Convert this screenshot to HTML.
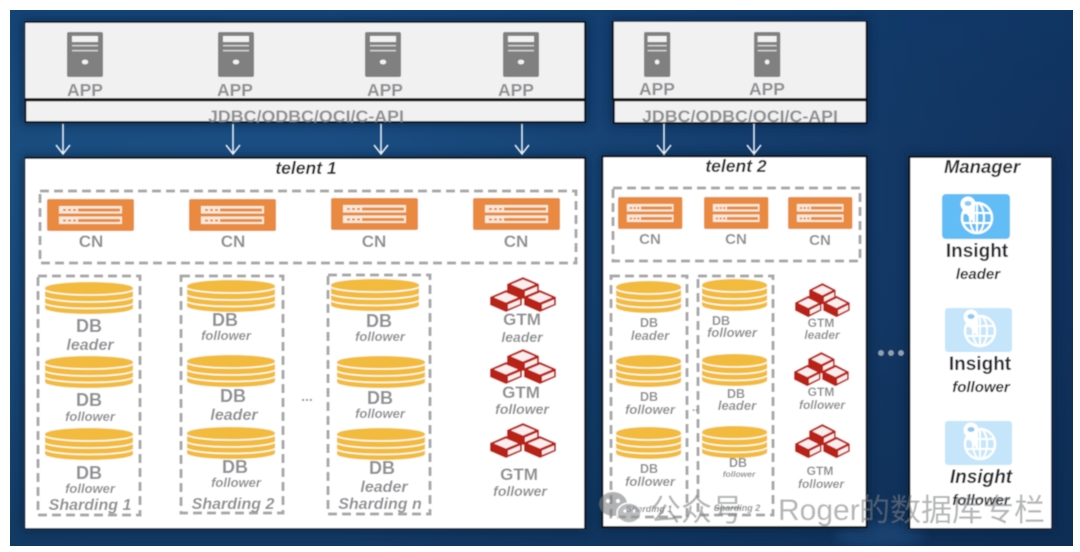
<!DOCTYPE html>
<html><head><meta charset="utf-8"><style>
html,body{margin:0;padding:0;background:#fff;width:1080px;height:552px;overflow:hidden}
svg{display:block}
text{font-family:"Liberation Sans","Noto Sans CJK SC",sans-serif}
.g{fill:#8f9093;font-weight:700;text-anchor:middle}
.i{fill:#8f9093;font-weight:700;font-style:italic;text-anchor:middle}
.d{fill:#2a2a2e;font-weight:700;text-anchor:middle}
.di{fill:#2a2a2e;font-weight:700;font-style:italic;text-anchor:middle}
.dash{fill:none;stroke:#a8a8aa;stroke-width:3;stroke-dasharray:9 5}
.p{stroke:#0b0b0b;stroke-width:1.6}
.arr{fill:none;stroke:#e8f0f6;stroke-width:1.6}
.wm{fill:#7d7f82;fill-opacity:.58;font-weight:400}
</style></head><body>
<svg width="1080" height="552" viewBox="0 0 1080 552" xmlns="http://www.w3.org/2000/svg">
<defs>
<clipPath id="bgc"><rect x="10" y="10" width="1063" height="536"/></clipPath>
<linearGradient id="bg" x1="0" y1="0" x2="1" y2="0">
<stop offset="0" stop-color="#1b4f80"/><stop offset=".3" stop-color="#1c4f84"/><stop offset=".6" stop-color="#164272"/><stop offset="1" stop-color="#11315c"/>
</linearGradient>
<linearGradient id="bg2" x1="0" y1="0" x2="0" y2="1">
<stop offset="0" stop-color="#0f3a6c" stop-opacity=".5"/><stop offset=".3" stop-color="#0f3a6c" stop-opacity="0"/><stop offset=".7" stop-color="#0d2c50" stop-opacity=".3"/><stop offset="1" stop-color="#0d2c50" stop-opacity=".6"/>
</linearGradient>
<filter id="b" x="0" y="0" width="100%" height="100%"><feGaussianBlur stdDeviation="0.5"/></filter>
<filter id="sh" x="-20%" y="-20%" width="140%" height="140%"><feGaussianBlur stdDeviation="5"/></filter>
<g id="srv">
<rect width="36" height="45" rx="2" fill="#808080"/>
<rect x="5" y="4" width="26" height="6" fill="#f2f2f2"/>
<rect x="5" y="13" width="26" height="1.3" fill="#dcdcdc"/>
<rect x="5" y="18" width="26" height="1.3" fill="#dcdcdc"/>
<ellipse cx="18" cy="30" rx="3.2" ry="2.4" fill="#f2f2f2"/>
</g>
<g id="cn">
<rect width="87" height="32" rx="2" fill="#ea8a3f"/>
<rect x="12" y="7" width="63" height="7.5" fill="#f8e9dc"/>
<rect x="12" y="17.5" width="63" height="7.5" fill="#f8e9dc"/>
<rect x="31" y="9.5" width="42" height="3" fill="#ea8a3f"/>
<rect x="31" y="20" width="42" height="3" fill="#ea8a3f"/>
<path d="M16 11h3M21 11h3M26 11h3M16 21.500h3M21 21.500h3M26 21.500h3" stroke="#ea8a3f" stroke-width="2"/>
</g>
<g id="db">
<path d="M0 6A44 6 0 0 1 88 6V26A44 6 0 0 1 0 26Z" fill="#f3bb3c"/>
<path d="M-1 7A45 6 0 0 0 89 7M-1 14A45 6 0 0 0 89 14M-1 20.500A45 6 0 0 0 89 20.500" fill="none" stroke="#fff" stroke-width="1.500"/>
</g>
<g id="cube">
<path d="M0 7L16 0L32 7V15L16 22L0 15Z" fill="#b92319"/>
<path d="M4 7.500L16 2.500L28 7.500L16 12.500Z" fill="#fbeeee"/>
<path d="M18 14.500L30 9.500V14L18 19Z" fill="#fbeeee"/>
</g>
<g id="gtm">
<use href="#cube" x="17" y="0"/>
<use href="#cube" x="0" y="13"/>
<use href="#cube" x="34" y="13"/>
</g>
<g id="globe">
<circle cx="35" cy="24" r="15" fill="none" stroke="#fff" stroke-width="2.500"/>
<ellipse cx="35" cy="24" rx="7" ry="15" fill="none" stroke="#fff" stroke-width="2"/>
<path d="M20 19H50M20 29H50M35 9V39" stroke="#fff" stroke-width="2"/>
<circle cx="26" cy="10" r="7.500" fill="#fff"/>
<path d="M19 13L33 11L33 30Z" fill="#fff"/>
<ellipse cx="26" cy="9.500" rx="3.500" ry="2.500" fill="#8fc9f2"/>
</g>
<g id="a"><path class="arr" d="M0 0V29M-7 21L0 30L7 21"/></g>
</defs>

<rect x="10" y="10" width="1063" height="536" fill="url(#bg)"/>
<rect x="10" y="10" width="1063" height="536" fill="url(#bg2)"/>

<g clip-path="url(#bgc)">
<ellipse cx="880" cy="535" rx="45" ry="12" fill="#25568c" opacity=".45" filter="url(#sh)"/>
<!-- panel shadows -->
<g fill="#08203f" opacity=".7" filter="url(#sh)">
<rect x="22" y="20" width="566" height="104"/>
<rect x="611" y="19" width="258" height="106"/>
<rect x="22" y="156" width="566" height="376"/>
<rect x="600" y="154" width="269" height="376"/>
<rect x="907" y="155" width="148" height="377"/>
</g>
</g>

<g filter="url(#b)">
<!-- top panels -->
<rect class="p" x="24.500" y="22" width="560.500" height="77" fill="#f1f1f1"/>
<rect class="p" x="25.500" y="100.500" width="559.500" height="21.500" fill="#f1f1f1"/>
<rect class="p" x="613" y="21" width="253.500" height="78" fill="#f1f1f1"/>
<rect class="p" x="614" y="100.500" width="252.500" height="22.500" fill="#f1f1f1"/>

<use href="#srv" x="67" y="32"/><use href="#srv" x="218" y="32"/><use href="#srv" x="365" y="32"/><use href="#srv" x="503" y="32"/>
<use href="#srv" transform="translate(644,32) scale(.73,1)"/><use href="#srv" transform="translate(754,32) scale(.73,1)"/>

<g font-size="17.500">
<text class="g" x="85" y="96">APP</text><text class="g" x="235" y="96">APP</text><text class="g" x="385" y="96">APP</text><text class="g" x="516" y="96">APP</text>
<text class="g" x="657" y="95">APP</text><text class="g" x="767" y="95">APP</text>
</g>
<text class="g" font-size="17" x="306" y="122" textLength="196" lengthAdjust="spacingAndGlyphs">JDBC/ODBC/OCI/C-API</text>
<text class="g" font-size="17" x="740" y="122" textLength="196" lengthAdjust="spacingAndGlyphs">JDBC/ODBC/OCI/C-API</text>

<use href="#a" x="63" y="124"/><use href="#a" x="233" y="124"/><use href="#a" x="381" y="124"/><use href="#a" x="522" y="124"/>
<use href="#a" x="664" y="124"/><use href="#a" x="754" y="124"/>

<!-- tenant panels -->
<rect class="p" x="24.500" y="158" width="560.500" height="371" fill="#fff"/>
<rect class="p" x="602.500" y="156.500" width="264" height="370.500" fill="#fff"/>
<rect class="p" x="909.500" y="157" width="142.500" height="372" fill="#fff"/>

<text class="di" font-size="17.500" x="306" y="174">telent 1</text>
<text class="di" font-size="17.500" x="736" y="172">telent 2</text>
<text class="di" font-size="18.500" x="982" y="173">Manager</text>

<!-- dashed groups -->
<rect class="dash" x="40" y="191" width="536" height="72"/>
<rect class="dash" x="38" y="276" width="102" height="239"/>
<rect class="dash" x="181" y="276" width="102" height="237"/>
<rect class="dash" x="328" y="275" width="102" height="239"/>
<rect class="dash" x="613" y="188" width="247" height="73"/>
<rect class="dash" x="611" y="276" width="76" height="241"/>
<rect class="dash" x="698" y="276" width="75" height="239"/>

<!-- CN -->
<use href="#cn" x="47" y="199"/><use href="#cn" x="189" y="199"/><use href="#cn" x="331" y="198"/><use href="#cn" x="473" y="198"/>
<use href="#cn" transform="translate(618,197) scale(.74,1)"/><use href="#cn" transform="translate(704,197) scale(.74,1)"/><use href="#cn" transform="translate(788,197) scale(.74,1)"/>
<g font-size="17">
<text class="g" x="91" y="247">CN</text><text class="g" x="233" y="247">CN</text><text class="g" x="374" y="247">CN</text><text class="g" x="516" y="247">CN</text>
</g>
<g font-size="15">
<text class="g" x="650" y="244">CN</text><text class="g" x="736" y="244">CN</text><text class="g" x="820" y="245">CN</text>
</g>

<!-- DB tenant 1 -->
<use href="#db" x="45" y="282"/><use href="#db" x="45" y="356"/><use href="#db" x="45" y="428"/>
<use href="#db" x="187" y="280"/><use href="#db" x="187" y="355"/><use href="#db" x="187" y="427"/>
<use href="#db" x="331" y="279"/><use href="#db" x="337" y="356"/><use href="#db" x="337" y="428"/>
<g font-size="18">
<text class="g" x="89" y="332">DB</text><text class="g" x="89" y="406">DB</text><text class="g" x="89" y="479">DB</text>
<text class="g" x="225" y="326">DB</text><text class="g" x="233" y="402">DB</text><text class="g" x="235" y="473">DB</text>
<text class="g" x="379" y="327">DB</text><text class="g" x="380" y="404">DB</text><text class="g" x="382" y="474">DB</text>
</g>
<g font-size="16">
<text class="i" x="90" y="350">leader</text><text class="i" x="234" y="420">leader</text><text class="i" x="384" y="492">leader</text>
<text class="i" x="90" y="510">Sharding 1</text><text class="i" x="233" y="509">Sharding 2</text><text class="i" x="380" y="509">Sharding n</text>
</g>
<g font-size="13">
<text class="i" x="90" y="421">follower</text><text class="i" x="90" y="493">follower</text>
<text class="i" x="226" y="340">follower</text><text class="i" x="236" y="487">follower</text>
<text class="i" x="380" y="341">follower</text><text class="i" x="380" y="418">follower</text>
</g>
<text x="307" y="401" font-size="14" font-weight="700" fill="#8f9093" text-anchor="middle">...</text>

<!-- GTM tenant 1 -->
<use href="#gtm" x="490" y="277"/><use href="#gtm" x="490" y="349"/><use href="#gtm" x="490" y="423"/>
<g font-size="17">
<text class="g" x="522" y="325">GTM</text><text class="g" x="521" y="398">GTM</text><text class="g" x="519" y="480">GTM</text>
</g>
<g font-size="14">
<text class="i" x="522" y="342">leader</text><text class="i" x="522" y="414">follower</text><text class="i" x="520" y="496">follower</text>
</g>

<!-- DB tenant 2 -->
<g>
<use href="#db" transform="translate(616,281) scale(.74,1)"/><use href="#db" transform="translate(616,355) scale(.74,1)"/><use href="#db" transform="translate(616,427) scale(.74,1)"/>
<use href="#db" transform="translate(702,279) scale(.74,1)"/><use href="#db" transform="translate(702,354) scale(.74,1)"/><use href="#db" transform="translate(702,426) scale(.74,1)"/>
</g>
<g font-size="12.500">
<text class="g" x="649" y="327">DB</text><text class="g" x="649" y="401">DB</text><text class="g" x="649" y="473">DB</text>
<text class="g" x="721" y="325">DB</text><text class="g" x="736" y="398">DB</text><text class="g" x="738" y="467">DB</text>
</g>
<g font-size="13">
<text class="i" x="650" y="340">leader</text><text class="i" x="650" y="414">follower</text><text class="i" x="650" y="486">follower</text>
<text class="i" x="732" y="337">follower</text><text class="i" x="737" y="410">leader</text>
</g>
<text class="i" font-size="8.500" x="739" y="477">follower</text>
<text class="i" font-size="9" x="649" y="512">Sharding 1</text>
<text class="i" font-size="9" x="737" y="511">Sharding 2</text>
<text x="695" y="411" font-size="11" font-weight="700" fill="#8f9093" text-anchor="middle">..</text>

<!-- GTM tenant 2 -->
<use href="#gtm" transform="translate(795,283) scale(.83,.98)"/><use href="#gtm" transform="translate(794,352) scale(.83,.98)"/><use href="#gtm" transform="translate(795,424) scale(.83,.98)"/>
<g font-size="12">
<text class="g" x="821" y="327">GTM</text><text class="g" x="821" y="396">GTM</text><text class="g" x="820" y="475">GTM</text>
</g>
<g font-size="12">
<text class="i" x="822" y="339">leader</text><text class="i" x="822" y="409">follower</text><text class="i" x="821" y="488">follower</text>
</g>

<!-- dots -->
<circle cx="881" cy="353" r="3" fill="#93a0ad"/><circle cx="891" cy="353" r="3" fill="#93a0ad"/><circle cx="901" cy="353" r="3" fill="#93a0ad"/>

<!-- Insight -->
<rect x="942" y="194" width="68" height="45" rx="4" fill="#62bdf7"/>
<use href="#globe" x="942" y="194"/>
<rect x="945" y="308" width="67" height="44" rx="3" fill="#c5e5fb"/>
<use href="#globe" x="945" y="307"/>
<rect x="945" y="421" width="67" height="44" rx="3" fill="#c5e5fb"/>
<use href="#globe" x="945" y="420"/>
<text class="d" font-size="19" x="977" y="257">Insight</text>
<text class="di" font-size="15" x="978" y="279">leader</text>
<text class="d" font-size="19" x="980" y="370">Insight</text>
<text class="di" font-size="15" x="981" y="392">follower</text>
<text class="di" font-size="19" x="981" y="483">Insight</text>
<text class="di" font-size="15" x="981" y="505">follower</text>

<!-- watermark -->
<g opacity=".6">
<ellipse cx="613" cy="504" rx="14" ry="12" fill="#7d7f82"/>
<ellipse cx="629" cy="513" rx="12" ry="10" fill="#8f9194" stroke="#fff" stroke-width="1.500"/>
<circle cx="608" cy="501" r="2" fill="#fff"/><circle cx="618" cy="501" r="2" fill="#fff"/>
<circle cx="625" cy="511" r="1.600" fill="#fff"/><circle cx="634" cy="511" r="1.600" fill="#fff"/>
</g>
<text class="wm" x="650" y="521" font-size="31">公众号</text>
<text class="wm" x="778" y="520" font-size="30">Roger</text>
<text class="wm" x="859" y="521" font-size="31">的数据库专栏</text>
</g>
</svg>
</body></html>
